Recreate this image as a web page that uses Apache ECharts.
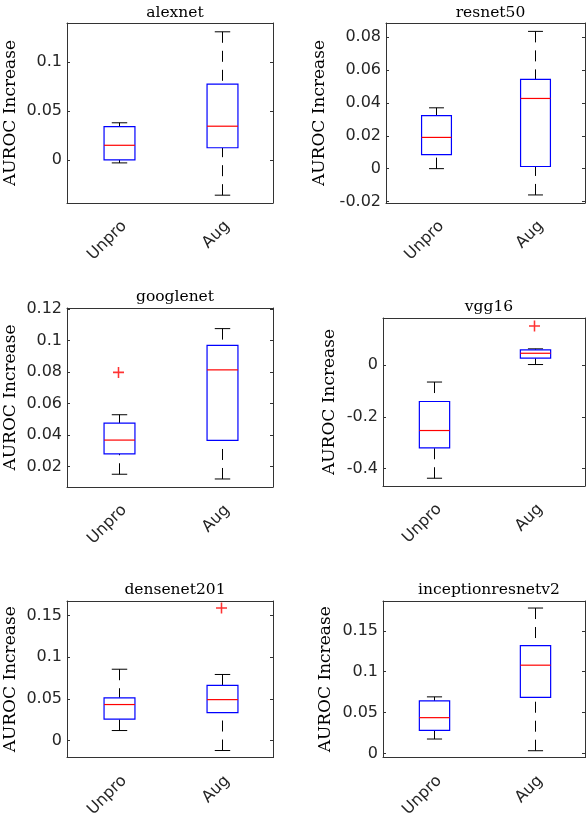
<!DOCTYPE html>
<html>

<head lang="en">
    <meta charset="utf-8">
    <title>AUROC Increase</title>
    <script src="https://cdn.jsdelivr.net/npm/echarts@6.0.0/dist/echarts.min.js"></script>
    <style>
        body { margin: 0; background: #fff; }
    </style>
</head>

<body>
    <div id="main" style="width: 588px;height:820px;"></div>
    <script type="text/javascript">
        /*---------------------数据----------------------------*/
        var categories = ['Unpro', 'Aug'];
        var models = ['alexnet', 'resnet50', 'googlenet', 'vgg16', 'densenet201', 'inceptionresnetv2'];

        // [lower whisker, Q1, median, Q3, upper whisker]
        var unproStats = [
            [-0.003, 0, 0.015, 0.034, 0.038],
            [0, 0.0085, 0.019, 0.0323, 0.037],
            [0.015, 0.028, 0.0367, 0.0475, 0.0528],
            [-0.437, -0.32, -0.253, -0.141, -0.066],
            [0.012, 0.0257, 0.0432, 0.0513, 0.0856],
            [0.0178, 0.0284, 0.0439, 0.0644, 0.0693]
        ];
        var augStats = [
            [-0.036, 0.0125, 0.0345, 0.0775, 0.131],
            [-0.016, 0.0013, 0.0427, 0.0543, 0.0835],
            [0.012, 0.0365, 0.0813, 0.0968, 0.1075],
            [0.0015, 0.026, 0.045, 0.058, 0.062],
            [-0.012, 0.0335, 0.0491, 0.0662, 0.0793],
            [0.0035, 0.0686, 0.108, 0.1318, 0.1778]
        ];
        // [category index, value]
        var outliers = [
            [],
            [],
            [[0, 0.0797]],
            [[1, 0.15]],
            [[1, 0.159]],
            []
        ];

        var yTicks = [
            [0, 0.05, 0.1],
            [-0.02, 0, 0.02, 0.04, 0.06, 0.08],
            [0.02, 0.04, 0.06, 0.08, 0.1, 0.12],
            [-0.4, -0.2, 0],
            [0, 0.05, 0.1, 0.15],
            [0, 0.05, 0.1, 0.15]
        ];
        var yLimits = [
            [-0.044, 0.14],
            [-0.0209, 0.0886],
            [0.0069, 0.1206],
            [-0.467, 0.181],
            [-0.0205, 0.1675],
            [-0.0049, 0.1864]
        ];

        /*---------------------布局----------------------------*/
        // left, top, width, height
        var grids = [
            [67, 23, 206, 180],
            [386, 23, 199, 180],
            [67, 308, 206, 179],
            [383, 318, 202, 168],
            [67, 601, 206, 169],
            [383, 601, 202, 169]
        ];
        var titleTops = [0, 0, 284, 294, 577, 577];
        var nameGaps = [48, 58, 48, 45, 48, 49];

        var axisColor = '#333333';
        var textColor = '#262626';

        // MATLAB style box: blue box, red median, black dashed whiskers
        function renderBox(params, api) {
            var x = api.value(0);
            var low = api.coord([x, api.value(1)]);
            var q1 = api.coord([x, api.value(2)]);
            var med = api.coord([x, api.value(3)]);
            var q3 = api.coord([x, api.value(4)]);
            var high = api.coord([x, api.value(5)]);
            var band = api.size([1, 0])[0];
            var bw = band * 0.3;
            var cw = band * 0.15;
            var cx = Math.round(low[0]) + 0.5;
            var whisker = { stroke: '#000', lineWidth: 1, lineDash: [11, 8] };
            var solid = { stroke: '#000', lineWidth: 1 };
            return {
                type: 'group',
                children: [{
                    type: 'line',
                    shape: { x1: cx, y1: high[1], x2: cx, y2: q3[1] },
                    style: whisker
                }, {
                    type: 'line',
                    shape: { x1: cx, y1: low[1], x2: cx, y2: q1[1] },
                    style: whisker
                }, {
                    type: 'line',
                    shape: { x1: cx - cw / 2, y1: high[1], x2: cx + cw / 2, y2: high[1] },
                    style: solid
                }, {
                    type: 'line',
                    shape: { x1: cx - cw / 2, y1: low[1], x2: cx + cw / 2, y2: low[1] },
                    style: solid
                }, {
                    type: 'rect',
                    shape: { x: cx - bw / 2, y: q3[1], width: bw, height: q1[1] - q3[1] },
                    style: { fill: '#fff', stroke: '#0000ff', lineWidth: 1.2 }
                }, {
                    type: 'line',
                    shape: { x1: cx - bw / 2, y1: med[1], x2: cx + bw / 2, y2: med[1] },
                    style: { stroke: '#ff0000', lineWidth: 1.2 }
                }]
            };
        }

        var option = {
            backgroundColor: '#fff',
            animation: false,
            title: [],
            grid: [],
            xAxis: [],
            yAxis: [],
            series: []
        };

        for (var i = 0; i < models.length; i++) {
            var g = grids[i];
            option.grid.push({ left: g[0], top: g[1], width: g[2], height: g[3] });
            option.title.push({
                text: models[i],
                left: g[0] + g[2] / 2,
                top: titleTops[i],
                textAlign: 'center',
                textStyle: {
                    fontFamily: 'DejaVu Serif',
                    fontWeight: 'normal',
                    fontSize: 15.5,
                    color: '#000'
                }
            });
            // bottom + top axes (box)
            option.xAxis.push({
                type: 'category',
                gridIndex: i,
                position: 'bottom',
                data: categories,
                axisLine: { onZero: false, lineStyle: { color: axisColor } },
                axisTick: { inside: true, length: 3, alignWithLabel: true, lineStyle: { color: axisColor } },
                axisLabel: {
                    rotate: 45,
                    margin: 15,
                    verticalAlign: 'top',
                    fontFamily: 'DejaVu Sans',
                    fontSize: 16,
                    color: textColor
                }
            }, {
                type: 'category',
                gridIndex: i,
                position: 'top',
                data: categories,
                axisLine: { onZero: false, lineStyle: { color: axisColor } },
                axisTick: { inside: true, length: 3, alignWithLabel: true, lineStyle: { color: axisColor } },
                axisLabel: { show: false }
            });
            // left + right axes (box)
            option.yAxis.push({
                type: 'value',
                gridIndex: i,
                position: 'left',
                min: yLimits[i][0],
                max: yLimits[i][1],
                name: 'AUROC Increase',
                nameLocation: 'middle',
                nameRotate: 90,
                nameGap: nameGaps[i],
                nameTextStyle: {
                    fontFamily: 'DejaVu Serif',
                    fontSize: 17,
                    color: '#000'
                },
                splitLine: { show: false },
                axisLine: { show: true, onZero: false, lineStyle: { color: axisColor } },
                axisTick: { show: true, inside: true, length: 3, customValues: yTicks[i], lineStyle: { color: axisColor } },
                axisLabel: {
                    customValues: yTicks[i],
                    margin: 5,
                    fontFamily: 'DejaVu Sans',
                    fontSize: 16,
                    color: textColor
                }
            }, {
                type: 'value',
                gridIndex: i,
                position: 'right',
                min: yLimits[i][0],
                max: yLimits[i][1],
                splitLine: { show: false },
                axisLine: { show: true, onZero: false, lineStyle: { color: axisColor } },
                axisTick: { show: true, inside: true, length: 3, customValues: yTicks[i], lineStyle: { color: axisColor } },
                axisLabel: { show: false }
            });
            option.series.push({
                type: 'custom',
                xAxisIndex: 2 * i,
                yAxisIndex: 2 * i,
                renderItem: renderBox,
                clip: false,
                encode: { x: 0, y: [1, 2, 3, 4, 5] },
                data: [[0].concat(unproStats[i]), [1].concat(augStats[i])]
            }, {
                type: 'scatter',
                xAxisIndex: 2 * i,
                yAxisIndex: 2 * i,
                symbol: 'path://M4.3,0H5.7V4.3H10V5.7H5.7V10H4.3V5.7H0V4.3H4.3Z',
                symbolSize: 11,
                itemStyle: { color: '#ff0000' },
                data: outliers[i]
            });
        }

        var myChart = echarts.init(document.getElementById('main'));
        myChart.setOption(option);
    </script>
</body>

</html>
